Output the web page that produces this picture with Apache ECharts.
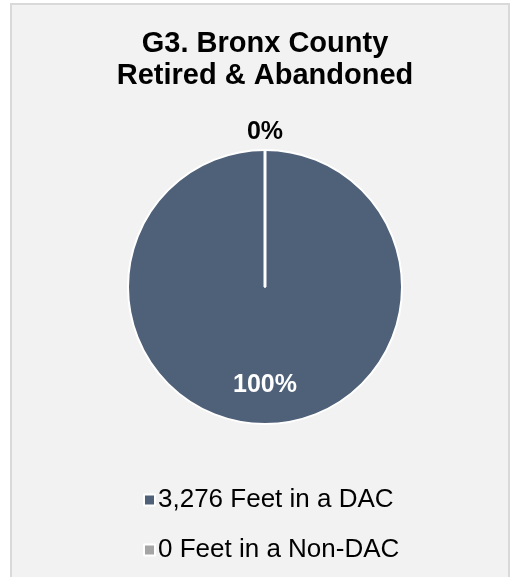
<!DOCTYPE html>
<html>
<head>
<meta charset="utf-8">
<script src="https://cdn.jsdelivr.net/npm/echarts@6/dist/echarts.min.js"></script>
<style>
  html, body { margin: 0; padding: 0; background: #ffffff; }
  #box {
    position: absolute; left: 10px; top: 3px; width: 496px; height: 600px;
    background: #f2f2f2; border: 2px solid #d9d9d9;
  }
  #chart { position: absolute; left: 0; top: 0; width: 511px; height: 577px; }
</style>
</head>
<body>
<div id="box"></div>
<div id="chart"></div>
<script>
  // 数据
  var categories = ['3,276 Feet in a DAC', '0 Feet in a Non-DAC']
  var feetValues = [3276, 0]
  var sliceColors = ['#4f6079', '#a5a5a5']

  var cx = 265
  var cy = 287
  var radius = 137

  var pieData = categories.map(function (name, i) {
    var item = { name: name, value: feetValues[i], itemStyle: { color: sliceColors[i] } }
    if (i === 0) {
      item.label = { color: '#ffffff', offset: [0, 27] }
    } else {
      item.label = { color: '#000000', offset: [0, -83] }
    }
    return item
  })

  var chart = echarts.init(document.getElementById('chart'))
  chart.setOption({
    backgroundColor: 'transparent',
    animation: false,
    title: {
      text: 'G3. Bronx County\nRetired & Abandoned',
      left: cx - 5,
      top: 23,
      textAlign: 'center',
      textStyle: {
        fontFamily: 'Liberation Sans',
        fontSize: 29,
        fontWeight: 'bold',
        lineHeight: 32,
        color: '#000000'
      }
    },
    legend: {
      orient: 'vertical',
      left: 138,
      top: 482,
      icon: 'rect',
      itemWidth: 11,
      itemHeight: 11,
      itemGap: 24,
      data: categories,
      itemStyle: { borderColor: '#ffffff', borderWidth: 2 },
      textStyle: {
        fontFamily: 'Liberation Sans',
        fontSize: 26,
        color: '#000000',
        padding: [0, 0, 0, -2]
      }
    },
    series: [{
      type: 'pie',
      center: [cx, cy],
      radius: radius,
      startAngle: 90,
      clockwise: true,
      percentPrecision: 0,
      stillShowZeroSum: true,
      avoidLabelOverlap: false,
      itemStyle: { borderColor: '#ffffff', borderWidth: 2 },
      label: {
        show: true,
        position: 'inside',
        formatter: '{d}%',
        fontFamily: 'Liberation Sans',
        fontSize: 25,
        fontWeight: 'bold'
      },
      labelLine: { show: false },
      emphasis: { disabled: true },
      data: pieData
    }],
    graphic: [{
      type: 'line',
      shape: { x1: cx, y1: cy, x2: cx, y2: cy - radius - 1 },
      style: { stroke: '#ffffff', lineWidth: 3 },
      z: 100
    }]
  })
</script>
</body>
</html>
